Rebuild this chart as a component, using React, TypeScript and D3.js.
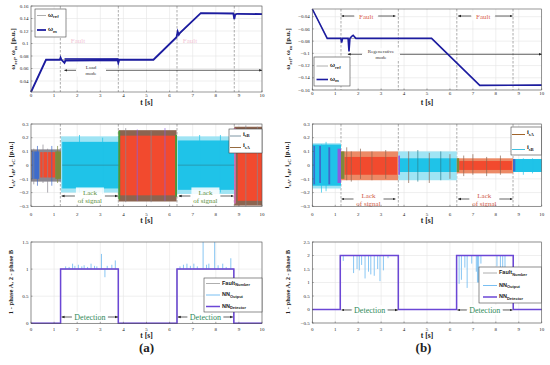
import React from "react";
import * as d3 from "d3";

// ---------- data ----------
const timeTicks = [0, 1, 2, 3, 4, 5, 6, 7, 8, 9, 10];
const speedTicksA = [0.04, 0.06, 0.08, 0.1, 0.12, 0.14, 0.16];
const speedTicksB = [-0.16, -0.14, -0.12, -0.1, -0.08, -0.06, -0.04];
const currentTicks = [-0.3, -0.2, -0.1, 0, 0.1, 0.2, 0.3];
const detTicksA = [0, 0.5, 1, 1.5];
const detTicksB = [-0.5, 0, 0.5, 1, 1.5, 2, 2.5];

const faultLinesA = [1.27, 3.78, 6.32, 8.8];
const faultLinesB = [1.25, 3.75, 6.3, 8.75];

// (a) speed
const aRefT = [0, 0.65, 5.3, 7.35, 10];
const aRefV = [0.0224, 0.074, 0.074, 0.1485, 0.1475];
const aMT = [0, 0.65, 1.25, 1.28, 1.32, 1.45, 1.5, 3.75, 3.78, 3.82, 3.9, 5.3, 6.3, 6.35, 6.4, 6.45, 7.35, 8.76, 8.8, 8.84, 8.92, 10];
const aMV = [0.0224, 0.074, 0.074, 0.0775, 0.074, 0.069, 0.073, 0.074, 0.069, 0.074, 0.074, 0.074, 0.11, 0.119, 0.114, 0.117, 0.1485, 0.148, 0.139, 0.146, 0.1475, 0.147];
const aNoiseBand = [1.45, 3.78, 0.0715, 0.0765];

// (b) speed
const bRefT = [0, 0.65, 5.2, 7.3, 10];
const bRefV = [-0.0274, -0.0755, -0.0755, -0.1525, -0.152];
const bMT = [0, 0.65, 1.24, 1.28, 1.32, 1.56, 1.6, 1.64, 1.72, 1.78, 1.9, 5.2, 7.3, 10];
const bMV = [-0.0274, -0.0755, -0.0755, -0.0825, -0.0755, -0.0755, -0.097, -0.0755, -0.072, -0.0705, -0.0755, -0.0755, -0.1525, -0.152];

// currents: [t0, t1, lo, hi, kind]
const aCurBands: [number, number, number, number, string][] = [
  [0, 1.3, -0.12, 0.115, "mix"],
  [0.05, 0.35, -0.1, 0.1, "blue"],
  [0.4, 1.05, -0.09, 0.095, "red"],
  [1.05, 1.3, -0.1, 0.1, "olive"],
  [1.3, 3.8, -0.2, 0.21, "cyanLight"],
  [1.35, 3.8, -0.17, 0.17, "cyan"],
  [3.8, 6.3, -0.265, 0.255, "brown"],
  [3.86, 6.25, -0.22, 0.215, "red"],
  [3.78, 3.86, -0.25, 0.25, "green"],
  [6.24, 6.32, -0.23, 0.22, "green"],
  [6.32, 8.8, -0.21, 0.21, "cyanLight"],
  [6.36, 8.8, -0.18, 0.18, "cyan"],
  [8.8, 10, -0.295, 0.28, "brown"],
  [8.95, 10, -0.26, 0.255, "red"],
  [8.8, 8.86, -0.28, 0.27, "pink"],
];
const aCurSpikes: [number, number, number, string][] = [
  [0.12, -0.14, 0.12, "mix"], [0.28, -0.15, 0.14, "blue"], [0.52, -0.13, 0.15, "mix"],
  [0.72, -0.2, 0.12, "mix"], [0.9, -0.15, 0.14, "blue"], [1.15, -0.13, 0.14, "olive"],
  [4.1, -0.27, 0.27, "mix"], [4.6, -0.26, 0.26, "purple"], [5.2, -0.27, 0.25, "mix"],
  [5.8, -0.26, 0.27, "purple"], [9.3, -0.3, 0.29, "mix"], [9.8, -0.29, 0.28, "mix"],
  [2.1, -0.2, 0.22, "cyan"], [3.1, -0.21, 0.2, "cyan"], [7.3, -0.21, 0.22, "cyan"], [8.2, -0.2, 0.22, "cyan"],
];
const aZeroLines = [[1.35, 3.8], [6.36, 8.8]];

const bCurBands: [number, number, number, number, string][] = [
  [0, 1.25, -0.17, 0.16, "cyanLight"],
  [0, 1.25, -0.15, 0.15, "cyan"],
  [0.05, 0.12, -0.14, 0.14, "blue"],
  [0.3, 0.38, -0.13, 0.14, "blue"],
  [0.7, 0.78, -0.14, 0.13, "blue"],
  [1.1, 1.25, -0.13, 0.12, "purple"],
  [1.25, 3.75, -0.11, 0.1, "salmon"],
  [1.4, 3.7, -0.07, 0.06, "red"],
  [1.25, 1.4, -0.1, 0.1, "olive"],
  [3.75, 6.3, -0.11, 0.1, "cyanLight"],
  [3.8, 6.3, -0.05, 0.05, "cyan"],
  [3.75, 3.82, -0.07, 0.07, "purple"],
  [6.3, 8.75, -0.06, 0.05, "salmon"],
  [6.4, 8.7, -0.035, 0.03, "red"],
  [6.3, 6.4, -0.05, 0.05, "olive"],
  [8.75, 10, -0.05, 0.045, "cyan"],
  [8.75, 8.85, -0.045, 0.045, "blue"],
];
const bCurSpikes: [number, number, number, string][] = [
  [0.4, -0.2, 0.15, "cyan"], [0.6, -0.19, 0.17, "cyan"], [1.5, -0.11, 0.13, "brown"],
  [1.7, -0.12, 0.1, "brown"], [2.1, -0.1, 0.12, "brown"], [2.6, -0.11, 0.1, "brown"],
  [3.2, -0.1, 0.11, "brown"], [4.2, -0.13, 0.1, "brown"], [4.6, -0.12, 0.11, "teal"],
  [5.1, -0.13, 0.09, "brown"], [5.6, -0.11, 0.1, "teal"], [6.0, -0.1, 0.08, "brown"],
  [6.6, -0.08, 0.07, "brown"], [7.0, -0.07, 0.08, "brown"], [7.6, -0.08, 0.06, "brown"],
  [8.2, -0.07, 0.07, "brown"], [9.2, -0.07, 0.05, "cyan"], [9.6, -0.06, 0.05, "cyan"],
];

// detection: step points [t, level]
const aStep: [number, number][] = [[0, 0], [1.28, 1], [3.78, 0], [6.32, 1], [8.78, 0], [10, 0]];
const bStep: [number, number][] = [[0, 0], [1.22, 2], [3.75, 0], [6.29, 2], [8.76, 0], [10, 0]];
// NN output deviations [t, value]
const aNN: [number, number][] = [
  [1.5, 1.05], [1.65, 1.04], [1.8, 1.1], [1.9, 1.06], [2.05, 1.08], [2.2, 1.05], [2.3, 1.07],
  [2.45, 1.04], [2.6, 1.1], [2.75, 1.06], [2.85, 1.05], [3.05, 1.28], [3.2, 0.85], [3.3, 1.06],
  [3.5, 1.08], [3.65, 1.16], [6.45, 1.05], [6.6, 1.08], [6.75, 1.1], [6.9, 1.06], [7.05, 1.1],
  [7.2, 1.05], [7.45, 1.5], [7.6, 1.08], [7.7, 1.1], [7.95, 1.5], [8.1, 1.07], [8.3, 1.1],
  [8.45, 1.04], [8.65, 1.2],
];
const bNN: [number, number][] = [
  [1.35, 1.8], [1.8, 1.35], [1.95, 1.5], [2.05, 1.45], [2.15, 1.65], [2.3, 1.15], [2.45, 1.4],
  [2.55, 1.3], [2.7, 1.25], [2.85, 1.5], [2.95, 1.05], [3.1, 1.45], [3.3, 1.9],
  [6.4, 0.95], [6.5, 1.1], [6.65, 1.55], [6.75, 0.8], [6.95, 1.7], [7.15, 1.4], [7.2, 1.0],
  [7.25, 1.0], [7.35, 1.7], [8.05, 1.6], [8.2, 1.4], [8.3, 1.45], [8.4, 1.5],
];

const COL: Record<string, string> = {
  mix: "#8a8790", blue: "#3d6ccc", red: "#f24a2e", cyan: "#1fc3e8", cyanLight: "#9fe4f4",
  olive: "#7d8a3c", brown: "#8c6450", green: "#4a9a3a", purple: "#8a5ee0", salmon: "#ec8a66",
  pink: "#e070c8", teal: "#2b7f8f",
};

const SERIF = "'Liberation Serif', 'DejaVu Serif', serif";
const SANS = "'Liberation Sans', Arial, sans-serif";

const fmt = (v: number) => d3.format("~g")(+v.toFixed(3));

function Frame({ x, y, yTicks, faults }: any) {
  const [x0, x1] = x.range();
  const [yb, yt] = y.range();
  return (
    <g>
      <rect x={x0} y={yt} width={x1 - x0} height={yb - yt} fill="white" />
      {timeTicks.map((t) => (
        <line key={"gx" + t} x1={x(t)} x2={x(t)} y1={yt} y2={yb} stroke="#e4e4e4" strokeWidth={0.6} />
      ))}
      {yTicks.map((v: number) => (
        <line key={"gy" + v} x1={x0} x2={x1} y1={y(v)} y2={y(v)} stroke="#e4e4e4" strokeWidth={0.6} />
      ))}
      {faults.map((t: number) => (
        <line key={"f" + t} x1={x(t)} x2={x(t)} y1={yt} y2={yb} stroke="#8a8a8a" strokeWidth={0.7} strokeDasharray="2.5,1.5" />
      ))}
    </g>
  );
}

function Axes({ x, y, yTicks, xLabOff, tLabY }: any) {
  const [x0, x1] = x.range();
  const [yb, yt] = y.range();
  return (
    <g>
      <rect x={x0} y={yt} width={x1 - x0} height={yb - yt} fill="none" stroke="#555" strokeWidth={0.6} />
      {timeTicks.map((t) => (
        <g key={"tx" + t}>
          <line x1={x(t)} x2={x(t)} y1={yb} y2={yb - 1.5} stroke="#555" strokeWidth={0.5} />
          <text x={x(t)} y={yb + xLabOff} fontSize={5} textAnchor="middle" fontFamily={SERIF} fill="#222">{t}</text>
        </g>
      ))}
      {yTicks.map((v: number) => (
        <g key={"ty" + v}>
          <line x1={x0} x2={x0 + 1.5} y1={y(v)} y2={y(v)} stroke="#555" strokeWidth={0.5} />
          <text x={x0 - 2.5} y={y(v) + 1.7} fontSize={5} textAnchor="end" fontFamily={SERIF} fill="#222">{fmt(v)}</text>
        </g>
      ))}
      <text x={(x0 + x1) / 2} y={tLabY} fontSize={7.5} fontWeight="bold" textAnchor="middle" fontFamily={SERIF} fill="#222">t [s]</text>
    </g>
  );
}

function DoubleArrow({ xa, xb, y, cx, lines, color, size, gap }: any) {
  const n = lines.length;
  const lh = size * 1.15;
  const half = gap / 2;
  const top = y - (n * lh) / 2 - 0.5;
  return (
    <g>
      <line x1={xa} x2={cx - half} y1={y} y2={y} stroke="#222" strokeWidth={0.7} markerStart="url(#arr)" />
      <line x1={cx + half} x2={xb} y1={y} y2={y} stroke="#222" strokeWidth={0.7} markerEnd="url(#arr)" />
      <rect x={cx - half + 1} y={top} width={gap - 2} height={n * lh + 1} fill="white" opacity={0.85} />
      {lines.map((s: string, i: number) => (
        <text key={i} x={cx} y={top + lh * (i + 1) - 1} fontSize={size} textAnchor="middle" fontFamily={SERIF} fill={color}>{s}</text>
      ))}
    </g>
  );
}

function Bands({ x, y, bands, spikes }: any) {
  return (
    <g>
      {bands.map((b: any, i: number) => (
        <rect key={"b" + i} x={x(b[0])} width={x(b[1]) - x(b[0])} y={y(b[3])} height={y(b[2]) - y(b[3])} fill={COL[b[4]]} />
      ))}
      {spikes.map((s: any, i: number) => (
        <line key={"s" + i} x1={x(s[0])} x2={x(s[0])} y1={y(s[1])} y2={y(s[2])} stroke={COL[s[3]]} strokeWidth={0.7} />
      ))}
    </g>
  );
}

function Sub({ main, sub, x, y, size, family, weight, anchor }: any) {
  return (
    <text x={x} y={y} fontSize={size} fontFamily={family} fontWeight={weight || "bold"} textAnchor={anchor || "start"} fill="#222">
      {main}
      <tspan dy={size * 0.3} fontSize={size * 0.72}>{sub}</tspan>
    </text>
  );
}

export default function App() {
  const xA = d3.scaleLinear().domain([0, 10]).range([31, 262]);
  const xB = d3.scaleLinear().domain([0, 10]).range([312.3, 541.7]);
  const yA1 = d3.scaleLinear().domain([0.0224, 0.16]).range([92, 6]);
  const yB1 = d3.scaleLinear().domain([-0.16, -0.0274]).range([90, 9]);
  const y2 = d3.scaleLinear().domain([-0.3, 0.3]).range([206.3, 124]);
  const yA3 = d3.scaleLinear().domain([0, 1.5]).range([323.3, 242]);
  const yB3 = d3.scaleLinear().domain([-0.5, 2.5]).range([323, 242]);

  const lineOf = (x: any, y: any, T: number[], V: number[]) =>
    d3.line<number>().x((_, i) => x(T[i])).y((v) => y(v))(V) || "";
  const stepOf = (x: any, y: any, pts: [number, number][]) =>
    d3.line<[number, number]>().x((d) => x(d[0])).y((d) => y(d[1])).curve(d3.curveStepAfter)(pts) || "";
  const levelAt = (pts: [number, number][], t: number) => {
    let lv = pts[0][1];
    for (const p of pts) if (p[0] <= t) lv = p[1];
    return lv;
  };

  return (
    <svg width={550} height={365} style={{ position: "absolute", left: 0, top: 0, background: "white" }}>
      <defs>
        <marker id="arr" viewBox="0 0 10 10" refX="9" refY="5" markerWidth="4.5" markerHeight="4.5" orient="auto-start-reverse">
          <path d="M0,1 L10,5 L0,9 z" fill="#222" />
        </marker>
      </defs>

      {/* ===== Row 1 (a) ===== */}
      <Frame x={xA} y={yA1} yTicks={speedTicksA} faults={faultLinesA} />
      <text x={78} y={43} fontSize={7} fill="#f2c6d6" textAnchor="middle" fontFamily={SERIF}>Fault</text>
      <text x={190} y={43} fontSize={7} fill="#f2c6d6" textAnchor="middle" fontFamily={SERIF}>Fault</text>
      <DoubleArrow xa={xA(1.45)} xb={xA(10)} y={70.3} cx={91} lines={["Load", "mode"]} color="#333" size={5} gap={30} />
      <rect x={xA(aNoiseBand[0])} width={xA(aNoiseBand[1]) - xA(aNoiseBand[0])} y={yA1(aNoiseBand[3])} height={yA1(aNoiseBand[2]) - yA1(aNoiseBand[3])} fill="#1c1ca0" />
      <path d={lineOf(xA, yA1, aRefT, aRefV)} fill="none" stroke="#999" strokeWidth={0.8} />
      <path d={lineOf(xA, yA1, aMT, aMV)} fill="none" stroke="#1c1ca0" strokeWidth={1.8} />
      <Axes x={xA} y={yA1} yTicks={speedTicksA} xLabOff={5} tLabY={104.5} />
      <g>
        <rect x={35} y={9} width={31} height={28} fill="white" stroke="#444" strokeWidth={0.6} />
        <line x1={37} x2={46} y1={15.5} y2={15.5} stroke="#999" strokeWidth={0.8} />
        <Sub main="ω" sub="ref" x={48} y={16.5} size={6} family={SANS} />
        <line x1={37} x2={46} y1={30} y2={30} stroke="#1c1ca0" strokeWidth={1.8} />
        <Sub main="ω" sub="m" x={48} y={31} size={6} family={SANS} />
      </g>
      <text transform="translate(15,49) rotate(-90)" fontSize={7} fontWeight="bold" textAnchor="middle" fontFamily={SERIF} fill="#222">
        ω<tspan dy={2} fontSize={5}>ref</tspan><tspan dy={-2}>, ω</tspan><tspan dy={2} fontSize={5}>m</tspan><tspan dy={-2}> [p.u.]</tspan>
      </text>

      {/* ===== Row 1 (b) ===== */}
      <Frame x={xB} y={yB1} yTicks={speedTicksB} faults={faultLinesB} />
      <DoubleArrow xa={xB(1.28)} xb={xB(3.62)} y={16} cx={xB(2.35)} lines={["Fault"]} color="#d9654f" size={7} gap={24} />
      <DoubleArrow xa={xB(6.36)} xb={xB(8.72)} y={16} cx={xB(7.45)} lines={["Fault"]} color="#d9654f" size={7} gap={24} />
      <DoubleArrow xa={xB(1.55)} xb={xB(10)} y={54.3} cx={381} lines={["Regenerative", "mode"]} color="#333" size={5} gap={38} />
      <path d={lineOf(xB, yB1, bRefT, bRefV)} fill="none" stroke="#999" strokeWidth={0.8} />
      <path d={lineOf(xB, yB1, bMT, bMV)} fill="none" stroke="#1c1ca0" strokeWidth={1.6} />
      <Axes x={xB} y={yB1} yTicks={speedTicksB} xLabOff={5} tLabY={104.5} />
      <g>
        <rect x={314} y={57} width={36} height={29} fill="white" stroke="#444" strokeWidth={0.6} />
        <line x1={316.5} x2={328} y1={66} y2={66} stroke="#999" strokeWidth={0.8} />
        <Sub main="ω" sub="ref" x={330} y={67} size={6} family={SANS} />
        <line x1={316.5} x2={328} y1={79.5} y2={79.5} stroke="#1c1ca0" strokeWidth={1.6} />
        <Sub main="ω" sub="m" x={330} y={80.5} size={6} family={SANS} />
      </g>
      <text transform="translate(290,49) rotate(-90)" fontSize={7} fontWeight="bold" textAnchor="middle" fontFamily={SERIF} fill="#222">
        ω<tspan dy={2} fontSize={5}>ref</tspan><tspan dy={-2}>, ω</tspan><tspan dy={2} fontSize={5}>m</tspan><tspan dy={-2}> [p.u.]</tspan>
      </text>

      {/* ===== Row 2 (a) ===== */}
      <Frame x={xA} y={y2} yTicks={currentTicks} faults={faultLinesA} />
      <Bands x={xA} y={y2} bands={aCurBands} spikes={aCurSpikes} />
      {aZeroLines.map((z, i) => (
        <line key={"z" + i} x1={xA(z[0])} x2={xA(z[1])} y1={y2(0)} y2={y2(0)} stroke={COL.teal} strokeWidth={0.6} />
      ))}
      <DoubleArrow xa={xA(1.33)} xb={xA(3.76)} y={196} cx={xA(2.55)} lines={["Lack", "of signal"]} color="#5e8f3c" size={7} gap={30} />
      <DoubleArrow xa={xA(6.4)} xb={xA(8.76)} y={196} cx={xA(7.55)} lines={["Lack", "of signal"]} color="#5e8f3c" size={7} gap={30} />
      <Axes x={xA} y={y2} yTicks={currentTicks} xLabOff={9.5} tLabY={223} />
      <g>
        <rect x={229} y={129} width={33} height={24} fill="white" stroke="#444" strokeWidth={0.6} />
        <line x1={230} x2={241} y1={136} y2={136} stroke="#6f8a9a" strokeWidth={0.9} />
        <Sub main="i" sub="sB" x={243} y={135.5} size={6.5} family={SERIF} />
        <line x1={230} x2={241} y1={147.5} y2={147.5} stroke="#8a5a2a" strokeWidth={0.9} />
        <Sub main="i" sub="sA" x={243} y={147} size={6.5} family={SERIF} />
      </g>
      <text transform="translate(13,165) rotate(-90)" fontSize={7} fontWeight="bold" textAnchor="middle" fontFamily={SERIF} fill="#222">
        i<tspan dy={2} fontSize={5}>sA</tspan><tspan dy={-2}>, i</tspan><tspan dy={2} fontSize={5}>sB</tspan><tspan dy={-2}>, i</tspan><tspan dy={2} fontSize={5}>sC</tspan><tspan dy={-2}> [p.u.]</tspan>
      </text>

      {/* ===== Row 2 (b) ===== */}
      <Frame x={xB} y={y2} yTicks={currentTicks} faults={faultLinesB} />
      <Bands x={xB} y={y2} bands={bCurBands} spikes={bCurSpikes} />
      <DoubleArrow xa={xB(1.28)} xb={xB(3.62)} y={199} cx={xB(2.45)} lines={["Lack", "of signal"]} color="#d05a4a" size={7} gap={30} />
      <DoubleArrow xa={xB(6.36)} xb={xB(8.72)} y={199} cx={xB(7.5)} lines={["Lack", "of signal"]} color="#d05a4a" size={7} gap={30} />
      <Axes x={xB} y={y2} yTicks={currentTicks} xLabOff={9.5} tLabY={223} />
      <g>
        <rect x={511} y={127} width={30.5} height={28} fill="white" stroke="#444" strokeWidth={0.6} />
        <line x1={512} x2={525} y1={134.5} y2={134.5} stroke="#a0642a" strokeWidth={1} />
        <Sub main="i" sub="sA" x={527} y={134} size={6.5} family={SERIF} />
        <line x1={512} x2={525} y1={149.5} y2={149.5} stroke="#40c0e0" strokeWidth={1} />
        <Sub main="i" sub="sB" x={527} y={149} size={6.5} family={SERIF} />
      </g>
      <text transform="translate(289,165) rotate(-90)" fontSize={7} fontWeight="bold" textAnchor="middle" fontFamily={SERIF} fill="#222">
        i<tspan dy={2} fontSize={5}>sA</tspan><tspan dy={-2}>, i</tspan><tspan dy={2} fontSize={5}>sB</tspan><tspan dy={-2}>, i</tspan><tspan dy={2} fontSize={5}>sC</tspan><tspan dy={-2}> [p.u.]</tspan>
      </text>

      {/* ===== Row 3 (a) ===== */}
      <Frame x={xA} y={yA3} yTicks={detTicksA} faults={[]} />
      <path d={stepOf(xA, yA3, aStep)} fill="none" stroke="#999" strokeWidth={0.8} />
      {aNN.map((p, i) => (
        <line key={"n" + i} x1={xA(p[0])} x2={xA(p[0])} y1={yA3(levelAt(aStep, p[0]))} y2={yA3(p[1])} stroke="#6ab8f0" strokeWidth={0.8} />
      ))}
      <path d={stepOf(xA, yA3, aStep)} fill="none" stroke="#6b47d6" strokeWidth={1.5} />
      <DoubleArrow xa={xA(1.33)} xb={xA(3.76)} y={317} cx={xA(2.55)} lines={["Detection"]} color="#2f8a5a" size={8} gap={36} />
      <DoubleArrow xa={xA(6.36)} xb={xA(8.74)} y={317} cx={xA(7.55)} lines={["Detection"]} color="#2f8a5a" size={8} gap={36} />
      <Axes x={xA} y={yA3} yTicks={detTicksA} xLabOff={7.5} tLabY={338} />
      <g>
        <rect x={204} y={278} width={58} height={34} fill="white" stroke="#444" strokeWidth={0.6} />
        <line x1={206} x2={220} y1={283.5} y2={283.5} stroke="#999" strokeWidth={0.8} />
        <Sub main="Fault" sub="Number" x={222} y={284.5} size={5.5} family={SANS} />
        <line x1={206} x2={220} y1={295} y2={295} stroke="#6ab8f0" strokeWidth={0.9} />
        <Sub main="NN" sub="Output" x={222} y={296} size={5.5} family={SANS} />
        <line x1={206} x2={220} y1={306.5} y2={306.5} stroke="#6b47d6" strokeWidth={1.5} />
        <Sub main="NN" sub="Detector" x={222} y={307.5} size={5.5} family={SANS} />
      </g>
      <text transform="translate(13,282) rotate(-90)" fontSize={6.5} fontWeight="bold" textAnchor="middle" fontFamily={SERIF} fill="#222">1 - phase A, 2 - phase B</text>
      <text x={146.5} y={352} fontSize={13} fontWeight="bold" textAnchor="middle" fontFamily={SERIF} fill="#222">(a)</text>

      {/* ===== Row 3 (b) ===== */}
      <Frame x={xB} y={yB3} yTicks={detTicksB} faults={[]} />
      <path d={stepOf(xB, yB3, bStep)} fill="none" stroke="#999" strokeWidth={0.8} />
      {bNN.map((p, i) => (
        <line key={"n" + i} x1={xB(p[0])} x2={xB(p[0])} y1={yB3(levelAt(bStep, p[0]))} y2={yB3(p[1])} stroke="#6ab8f0" strokeWidth={0.8} />
      ))}
      <path d={stepOf(xB, yB3, bStep)} fill="none" stroke="#6b47d6" strokeWidth={1.5} />
      <DoubleArrow xa={xB(1.28)} xb={xB(3.72)} y={310} cx={xB(2.5)} lines={["Detection"]} color="#2f8a5a" size={8} gap={36} />
      <DoubleArrow xa={xB(6.33)} xb={xB(8.72)} y={310} cx={xB(7.52)} lines={["Detection"]} color="#2f8a5a" size={8} gap={36} />
      <Axes x={xB} y={yB3} yTicks={detTicksB} xLabOff={7.5} tLabY={338} />
      <g>
        <rect x={479} y={267} width={62.5} height={36} fill="white" stroke="#444" strokeWidth={0.6} />
        <line x1={483} x2={497} y1={273} y2={273} stroke="#999" strokeWidth={0.8} />
        <Sub main="Fault" sub="Number" x={499} y={274} size={5.5} family={SANS} />
        <line x1={483} x2={497} y1={285.5} y2={285.5} stroke="#6ab8f0" strokeWidth={0.9} />
        <Sub main="NN" sub="Output" x={499} y={286.5} size={5.5} family={SANS} />
        <line x1={483} x2={497} y1={297} y2={297} stroke="#6b47d6" strokeWidth={1.5} />
        <Sub main="NN" sub="Detector" x={499} y={298} size={5.5} family={SANS} />
      </g>
      <text transform="translate(290,282) rotate(-90)" fontSize={6.5} fontWeight="bold" textAnchor="middle" fontFamily={SERIF} fill="#222">1 - phase A, 2 - phase B</text>
      <text x={423.5} y={352} fontSize={13} fontWeight="bold" textAnchor="middle" fontFamily={SERIF} fill="#222">(b)</text>
    </svg>
  );
}
